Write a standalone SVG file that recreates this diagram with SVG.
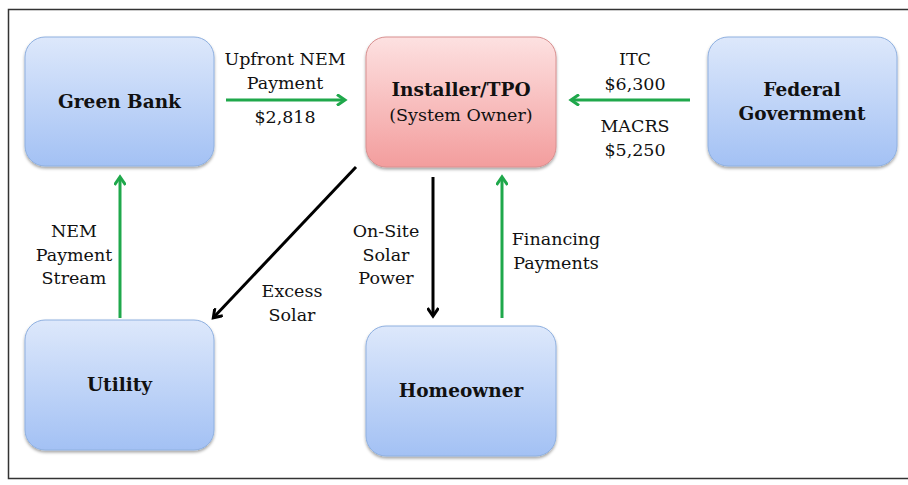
<svg xmlns="http://www.w3.org/2000/svg" width="908" height="485" viewBox="0 0 908 485">
<defs>
<linearGradient id="blue" x1="0" y1="0" x2="0" y2="1">
<stop offset="0" stop-color="#dde8fb"/>
<stop offset="1" stop-color="#a3c1f4"/>
</linearGradient>
<linearGradient id="pink" x1="0" y1="0" x2="0" y2="1">
<stop offset="0" stop-color="#fde1e1"/>
<stop offset="1" stop-color="#f39d9d"/>
</linearGradient>
<filter id="sh" x="-10%" y="-10%" width="120%" height="125%">
<feDropShadow dx="0" dy="2" stdDeviation="1.5" flood-color="#000" flood-opacity="0.35"/>
</filter>
<marker id="ag" markerWidth="12" markerHeight="12" refX="8" refY="6" orient="auto" markerUnits="userSpaceOnUse" viewBox="0 0 12 12">
<path d="M1,0.5 L9,6 L1,11.5" fill="none" stroke="#1fa84b" stroke-width="3"/>
</marker>
<marker id="ak" markerWidth="12" markerHeight="12" refX="8" refY="6" orient="auto" markerUnits="userSpaceOnUse" viewBox="0 0 12 12">
<path d="M1,0.5 L9,6 L1,11.5" fill="none" stroke="#000" stroke-width="3"/>
</marker>
</defs>
<style>
.nb{fill:url(#blue);stroke:#8fb0e0;stroke-width:1;filter:url(#sh)}
.np{fill:url(#pink);stroke:#d89090;stroke-width:1;filter:url(#sh)}
.t{font-family:"DejaVu Serif","Liberation Serif",serif;font-size:17.5px;text-anchor:middle;fill:#111}
.b{font-weight:bold;font-size:18.5px}
.g{stroke:#1fa84b;stroke-width:3;fill:none;marker-end:url(#ag)}
.k{stroke:#000;stroke-width:3;fill:none;marker-end:url(#ak)}
</style>
<rect x="0" y="0" width="908" height="485" fill="#fff"/>
<rect x="8.5" y="9.5" width="905" height="469" fill="none" stroke="#333" stroke-width="1.5"/>
<g id="connectors">
<line class="g" x1="226" y1="100" x2="344" y2="100"/>
<line class="g" x1="690" y1="100" x2="572" y2="100"/>
<line class="g" x1="120" y1="318" x2="120" y2="178"/>
<line class="k" x1="356" y1="167" x2="214" y2="317"/>
<line class="k" x1="433" y1="177" x2="433" y2="315"/>
<line class="g" x1="502" y1="318" x2="502" y2="178"/>
<g class="t">
<text x="285" y="65">Upfront NEM</text>
<text x="285" y="89">Payment</text>
<text x="285" y="123">$2,818</text>
<text x="635" y="65">ITC</text>
<text x="635" y="90">$6,300</text>
<text x="635" y="132">MACRS</text>
<text x="635" y="156">$5,250</text>
<text x="74" y="237">NEM</text>
<text x="74" y="261">Payment</text>
<text x="74" y="284">Stream</text>
<text x="292" y="297">Excess</text>
<text x="292" y="321">Solar</text>
<text x="386" y="237">On-Site</text>
<text x="386" y="261">Solar</text>
<text x="386" y="284">Power</text>
<text x="556" y="245">Financing</text>
<text x="556" y="269">Payments</text>
</g>
</g>
<g id="green-bank">
<rect class="nb" x="25" y="37" width="189" height="129" rx="20"/>
<text class="t b" x="119.5" y="108">Green Bank</text>
</g>
<g id="installer">
<rect class="np" x="366" y="37" width="190" height="130" rx="20"/>
<text class="t b" x="461" y="96">Installer/TPO</text>
<text class="t" x="461" y="121">(System Owner)</text>
</g>
<g id="federal">
<rect class="nb" x="708" y="37" width="189" height="129" rx="20"/>
<text class="t b" x="802" y="96">Federal</text>
<text class="t b" x="802" y="120">Government</text>
</g>
<g id="utility">
<rect class="nb" x="25" y="320" width="189" height="130" rx="20"/>
<text class="t b" x="119.5" y="391">Utility</text>
</g>
<g id="homeowner">
<rect class="nb" x="366" y="326" width="190" height="130" rx="20"/>
<text class="t b" x="461" y="397">Homeowner</text>
</g>
</svg>
